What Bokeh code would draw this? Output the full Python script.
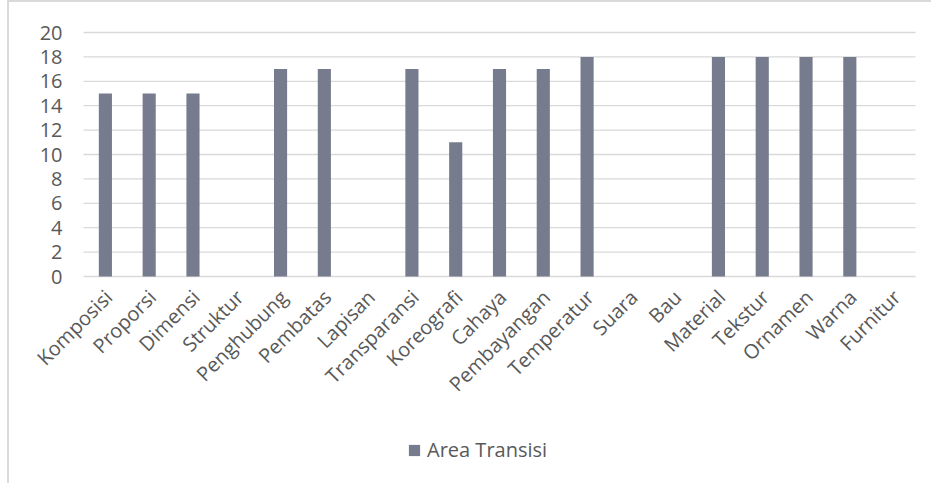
import math
from bokeh.plotting import figure
from bokeh.models import ColumnDataSource, Legend, LegendItem, Range1d
from bokeh.core.properties import value
from bokeh.embed import file_html
from bokeh.resources import INLINE

categories = ["Komposisi", "Proporsi", "Dimensi", "Struktur", "Penghubung", "Pembatas",
              "Lapisan", "Transparansi", "Koreografi", "Cahaya", "Pembayangan", "Temperatur",
              "Suara", "Bau", "Material", "Tekstur", "Ornamen", "Warna", "Furnitur"]
values = [15, 15, 15, 0, 17, 17, 0, 17, 11, 17, 17, 18, 0, 0, 18, 18, 18, 18, 0]
series_name = "Area Transisi"
y_ticks = [0, 2, 4, 6, 8, 10, 12, 14, 16, 18, 20]

BAR = "#767C8D"
TXT = "#595959"
GRID = "#D9D9D9"
FONT = "Open Sans"

n = len(categories)
pos = list(range(n))
src = ColumnDataSource(dict(pos=pos, cat=categories, val=values, base=[0] * n))
tick_src = ColumnDataSource(dict(tick=y_ticks, label=[str(t) for t in y_ticks]))

# one frame covering the whole chart area so that no text is clipped;
# the plotting area proper runs from -0.5 to n-0.5 and from 0 to 20
px_x = 832 / n          # pixels per category
px_y = 244 / 20         # pixels per unit
frame_w, frame_h = 922, 481
x_lo = -0.5 - 74 / px_x
x_hi = x_lo + frame_w / px_x
y_hi = 20 + 30 / px_y
y_lo = y_hi - frame_h / px_y

p = figure(x_range=Range1d(x_lo, x_hi), y_range=Range1d(y_lo, y_hi),
           frame_width=frame_w, frame_height=frame_h,
           output_backend="svg", toolbar_location=None,
           min_border_left=0, min_border_right=0, min_border_top=0, min_border_bottom=0)
p.styles = {"margin-left": "7px", "border-left": "2px solid #D9D9D9", "border-top": "2px solid #D9D9D9"}
p.outline_line_color = None
p.background_fill_color = "white"
p.xaxis.visible = False
p.yaxis.visible = False
p.grid.visible = False

# horizontal gridlines across the plotting area
p.segment(x0=-0.5, x1=n - 0.5, y0="tick", y1="tick", source=tick_src,
          line_color=GRID, line_width=1.3)

# y tick labels
p.text(x=-0.5, y="tick", text="label", source=tick_src, x_offset=-21,
       text_align="right", text_baseline="middle",
       text_font=value(FONT), text_font_size=value("20px"), text_color=TXT)

r = p.vbar(x="pos", top="val", width=0.3, source=src, fill_color=BAR, line_color=None)

# category labels, rotated 45 degrees, hanging below the zero line
p.text(x="pos", y="base", text="cat", source=src, angle=math.pi / 4,
       text_align="right", text_baseline="middle", x_offset=3, y_offset=17,
       text_font=value(FONT), text_font_size=value("20px"), text_color=TXT)

legend = Legend(items=[LegendItem(label=series_name, renderers=[r])],
                location=(398, 20), orientation="horizontal",
                label_text_font=FONT, label_text_font_size="20px", label_text_color=TXT,
                glyph_width=14, glyph_height=14, padding=0, margin=0, spacing=0,
                border_line_color=None, background_fill_alpha=0, label_standoff=6)
p.add_layout(legend, "center")

open("out.html", "w").write(file_html(p, INLINE))
